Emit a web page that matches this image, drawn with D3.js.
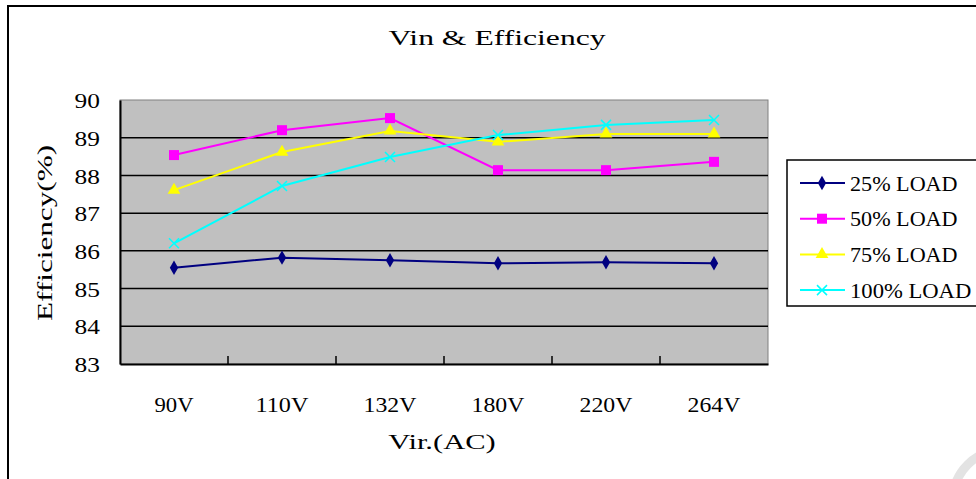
<!DOCTYPE html>
<html><head><meta charset="utf-8">
<script src="https://cdn.jsdelivr.net/npm/d3@7"></script>
<style>body{margin:0;background:#fff}svg{display:block}text{font-family:"Liberation Serif","DejaVu Serif",serif;fill:#000}</style>
</head><body><svg id="c" width="976" height="479"></svg>
<script>
const categories = ["90V","110V","132V","180V","220V","264V"];
const seriesNames = ["25% LOAD","50% LOAD","75% LOAD","100% LOAD"];
const load25 = [85.55, 85.82, 85.75, 85.67, 85.70, 85.67];
const load50 = [88.54, 89.20, 89.52, 88.14, 88.14, 88.36];
const load75 = [87.61, 88.62, 89.18, 88.89, 89.10, 89.10];
const load100 = [86.20, 87.72, 88.49, 89.07, 89.34, 89.47];
const yTicks = [83,84,85,86,87,88,89,90];
const colors = ["#000080","#FF00FF","#FFFF00","#00FFFF"];
const markers = ["diamond","square","triangle","cross"];
const allSeries = [load25, load50, load75, load100];

const FS = "22px", CW = 13.7;
const svg = d3.select("#c");
const L=120, R=768, T=100, B=364;
const x = d3.scaleBand().domain(categories).range([L,R]);
const y = d3.scaleLinear().domain([83,90]).range([B,T]);

svg.append("path").attr("d","M8,479 V6 H976").attr("fill","none").attr("stroke","#000").attr("stroke-width",2);
svg.append("circle").attr("cx",1003).attr("cy",500).attr("r",50).attr("fill","none").attr("stroke","#e3e3e3").attr("stroke-width",9);

svg.append("text").attr("x",497).attr("y",45).attr("text-anchor","middle").text("Vin & Efficiency");

svg.append("rect").attr("x",L).attr("y",T).attr("width",R-L).attr("height",B-T).attr("fill","#C0C0C0").attr("stroke","#808080").attr("stroke-width",1);
svg.append("g").selectAll("line").data(yTicks.filter(d=>d>83&&d<90)).join("line")
  .attr("x1",L).attr("x2",R).attr("y1",d=>y(d)).attr("y2",d=>y(d)).attr("stroke","#000").attr("stroke-width",1.5);

const yAxis = d3.axisLeft(y).tickValues(yTicks).tickSize(0).tickPadding(20).tickFormat(d3.format("d"));
const gy = svg.append("g").attr("transform",`translate(${L},0)`).call(yAxis);
gy.select(".domain").attr("stroke","#000").attr("stroke-width",2);
gy.selectAll("text").attr("dy","0.35em");

const xAxis = d3.axisBottom(x).tickSize(0).tickPadding(32);
const gx = svg.append("g").attr("transform",`translate(0,${B})`).call(xAxis);
gx.select(".domain").attr("stroke","#000").attr("stroke-width",2);
svg.append("g").selectAll("line").data(categories.slice(1)).join("line")
  .attr("x1",d=>x(d)).attr("x2",d=>x(d)).attr("y1",B).attr("y2",B-8).attr("stroke","#000").attr("stroke-width",1.5);

svg.append("text").attr("x",442).attr("y",449).attr("text-anchor","middle").text("Vir.(AC)");
svg.append("text").attr("transform","translate(52,233) rotate(-90)").attr("text-anchor","middle").text("Efficiency(%)");

const line = d3.line().x((d,i)=>x(categories[i])+x.bandwidth()/2).y(d=>y(d));
function drawMarker(g, type, color, cx, cy){
  if(type==="diamond"){
    g.append("path").attr("d",d3.symbol(d3.symbolDiamond,60)()).attr("transform",`translate(${cx},${cy})`).attr("fill",color);
  } else if(type==="square"){
    g.append("rect").attr("x",cx-5).attr("y",cy-5).attr("width",10).attr("height",10).attr("fill",color);
  } else if(type==="triangle"){
    g.append("path").attr("d",d3.symbol(d3.symbolTriangle,70)()).attr("transform",`translate(${cx},${cy})`).attr("fill",color);
  } else {
    g.append("path").attr("d",`M${cx-5},${cy-5}L${cx+5},${cy+5}M${cx-5},${cy+5}L${cx+5},${cy-5}`).attr("stroke",color).attr("stroke-width",1.5);
  }
}
const gs = svg.append("g");
[0,1,2,3].forEach(si=>{
  gs.append("path").datum(allSeries[si]).attr("d",line).attr("fill","none").attr("stroke",colors[si]).attr("stroke-width",2);
});
[0,1,2,3].forEach(si=>{
  allSeries[si].forEach((v,i)=>drawMarker(gs,markers[si],colors[si],x(categories[i])+x.bandwidth()/2,y(v)));
});

const lg = svg.append("g");
lg.append("rect").attr("x",787).attr("y",160).attr("width",200).attr("height",146).attr("fill","#fff").attr("stroke","#000").attr("stroke-width",1.5);
seriesNames.forEach((n,i)=>{
  const yy = 183 + i*35.7;
  lg.append("line").attr("x1",800).attr("x2",845).attr("y1",yy).attr("y2",yy).attr("stroke",colors[i]).attr("stroke-width",2);
  drawMarker(lg,markers[i],colors[i],822,yy);
  lg.append("text").attr("x",850).attr("y",yy).attr("dy","0.35em").text(n);
});

// monospace-like widths for all text
svg.selectAll("text").each(function(){
  const t = d3.select(this);
  const s = t.text();
  t.style("font-size",FS).style("font-family","Liberation Serif, DejaVu Serif, serif")
   .attr("textLength", s.length*CW - 2).attr("lengthAdjust","spacingAndGlyphs");
});
</script></body></html>
